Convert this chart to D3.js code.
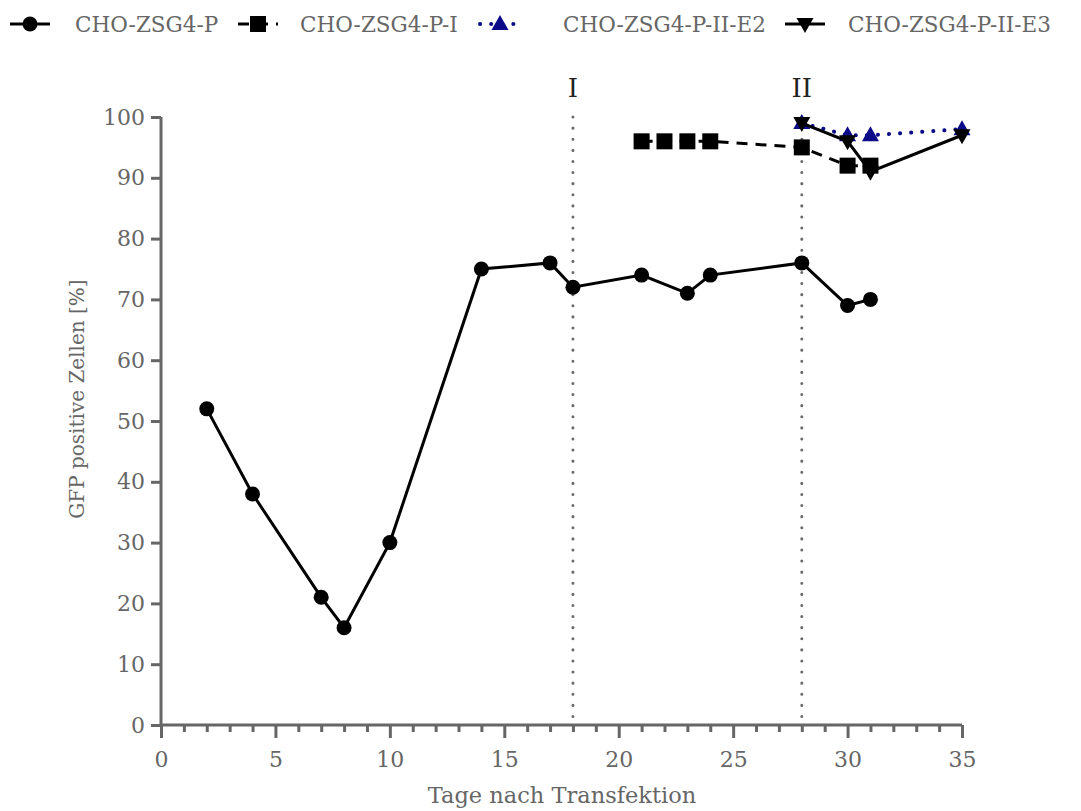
<!DOCTYPE html>
<html>
<head>
<meta charset="utf-8">
<script src="https://cdn.jsdelivr.net/npm/d3@7"></script>
<style>
  html, body { margin: 0; padding: 0; background: #fff; }
  svg { display: block; }
</style>
</head>
<body>
<svg id="chart" width="1081" height="811"></svg>
<script>
// Days after transfection and GFP-positive share per cell line
const daysP   = [2, 4, 7, 8, 10, 14, 17, 18, 21, 23, 24, 28, 30, 31];
const valuesP = [52, 38, 21, 16, 30, 75, 76, 72, 74, 71, 74, 76, 69, 70];

const daysPI   = [21, 22, 23, 24, 28, 30, 31];
const valuesPI = [96, 96, 96, 96, 95, 92, 92];

const daysE2   = [28, 30, 31, 35];
const valuesE2 = [99, 97, 97, 98];

const daysE3   = [28, 30, 31, 35];
const valuesE3 = [99, 96, 91, 97];

const seriesNames = ["CHO-ZSG4-P", "CHO-ZSG4-P-I", "CHO-ZSG4-P-II-E2", "CHO-ZSG4-P-II-E3"];
const xTicks = [0, 5, 10, 15, 20, 25, 30, 35];
const yTicks = [0, 10, 20, 30, 40, 50, 60, 70, 80, 90, 100];
const markerDays = [18, 28];
const markerLabels = ["I", "II"];

const FONT = "'DejaVu Serif', 'Liberation Serif', serif";
const AXIS_GREY = "#666666";
const NAVY = "#0b0b8a";

const svg = d3.select("#chart");
const x = d3.scaleLinear().domain([0, 35]).range([161, 962]);
const y = d3.scaleLinear().domain([0, 100]).range([725, 117]);

const series = [
  { name: seriesNames[0], days: daysP,  vals: valuesP,  color: "#000", dash: null,   width: 3, marker: "circle" },
  { name: seriesNames[1], days: daysPI, vals: valuesPI, color: "#000", dash: "11,8", width: 3, marker: "square" },
  { name: seriesNames[2], days: daysE2, vals: valuesE2, color: NAVY,   dash: "0.1,11", width: 4, marker: "triUp", cap: "round" },
  { name: seriesNames[3], days: daysE3, vals: valuesE3, color: "#000", dash: null,   width: 3, marker: "triDown" }
];

// Marker shapes
function drawMarker(g, type, cx, cy, color) {
  if (type === "circle") {
    g.append("circle").attr("cx", cx).attr("cy", cy).attr("r", 7.5).attr("fill", color);
  } else if (type === "square") {
    g.append("rect").attr("x", cx - 8).attr("y", cy - 8).attr("width", 16).attr("height", 16).attr("fill", color);
  } else if (type === "triUp") {
    g.append("path").attr("d", `M${cx},${cy - 9}L${cx + 8.5},${cy + 6}L${cx - 8.5},${cy + 6}Z`).attr("fill", color);
  } else if (type === "triDown") {
    g.append("path").attr("d", `M${cx},${cy + 9}L${cx + 8.5},${cy - 6}L${cx - 8.5},${cy - 6}Z`).attr("fill", color);
  }
}

// Reference lines for events I and II
const refG = svg.append("g");
markerDays.forEach((d, i) => {
  refG.append("line")
    .attr("x1", x(d)).attr("x2", x(d))
    .attr("y1", y(100)).attr("y2", y(0))
    .attr("stroke", "#6b6b6b").attr("stroke-width", 3)
    .attr("stroke-dasharray", "0.1,11").attr("stroke-linecap", "round");
  refG.append("text")
    .attr("x", x(d)).attr("y", 97)
    .attr("text-anchor", "middle")
    .attr("font-family", FONT).attr("font-size", 26)
    .attr("fill", "#222")
    .text(markerLabels[i]);
});

// Axes
const xAxisG = svg.append("g").attr("transform", `translate(0,${y(0)})`);
xAxisG.call(d3.axisBottom(x).tickValues(d3.range(0, 36, 1)).tickSize(7).tickFormat(""));
xAxisG.call(g => g.selectAll(".tick line").filter(d => d % 5 === 0).attr("y2", 13));
xAxisG.selectAll(".domain").attr("d", `M${x(0)},0H${x(35)}`);
xAxisG.selectAll(".tick").filter(d => xTicks.includes(d)).append("text")
  .attr("y", 42).attr("text-anchor", "middle")
  .text(d => d);

const yAxisG = svg.append("g").attr("transform", `translate(${x(0)},0)`);
yAxisG.call(d3.axisLeft(y).tickValues(yTicks).tickSize(10));
yAxisG.selectAll(".domain").attr("d", `M0,${y(0)}V${y(100)}`);
yAxisG.selectAll(".tick text").attr("x", -16);

[xAxisG, yAxisG].forEach(g => {
  g.selectAll(".domain").attr("stroke", AXIS_GREY).attr("stroke-width", 3);
  g.selectAll(".tick line").attr("stroke", AXIS_GREY).attr("stroke-width", 3);
  g.selectAll("text").attr("font-family", FONT).attr("font-size", 22).attr("fill", AXIS_GREY);
});

// Axis titles
svg.append("text")
  .attr("x", 562).attr("y", 803)
  .attr("text-anchor", "middle")
  .attr("font-family", FONT).attr("font-size", 22.5).attr("fill", AXIS_GREY)
  .text("Tage nach Transfektion");
svg.append("text")
  .attr("transform", `translate(84,399) rotate(-90)`)
  .attr("text-anchor", "middle")
  .attr("font-family", FONT).attr("font-size", 20).attr("fill", AXIS_GREY)
  .text("GFP positive Zellen [%]");

// Series lines and markers
const line = d3.line().x(d => x(d[0])).y(d => y(d[1]));
series.forEach(s => {
  const pts = s.days.map((d, i) => [d, s.vals[i]]);
  const g = svg.append("g");
  g.append("path")
    .attr("d", line(pts))
    .attr("fill", "none")
    .attr("stroke", s.color)
    .attr("stroke-width", s.width)
    .attr("stroke-dasharray", s.dash)
    .attr("stroke-linecap", s.cap || "butt");
  pts.forEach(p => drawMarker(g, s.marker, x(p[0]), y(p[1]), s.color));
});

// Legend
const legendItems = [
  { sx: 10,  tx: 75 },
  { sx: 238, tx: 300 },
  { sx: 480, tx: 563 },
  { sx: 785, tx: 848 }
];
const legY = 24;
series.forEach((s, i) => {
  const g = svg.append("g");
  const x0 = legendItems[i].sx, x1 = x0 + 40;
  g.append("line")
    .attr("x1", x0).attr("x2", x1).attr("y1", legY).attr("y2", legY)
    .attr("stroke", s.color).attr("stroke-width", s.width)
    .attr("stroke-dasharray", s.dash).attr("stroke-linecap", s.cap || "butt");
  drawMarker(g, s.marker, (x0 + x1) / 2, legY, s.color);
  g.append("text")
    .attr("x", legendItems[i].tx).attr("y", legY + 8)
    .attr("font-family", FONT).attr("font-size", 21.5).attr("fill", AXIS_GREY)
    .text(s.name);
});
</script>
</body>
</html>
